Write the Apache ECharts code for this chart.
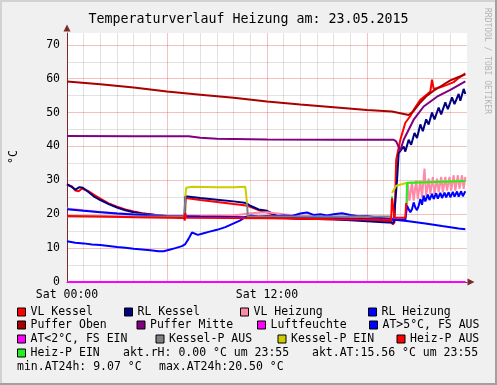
<!DOCTYPE html>
<html><head><meta charset="utf-8">
<script src="https://cdn.jsdelivr.net/npm/echarts@6/dist/echarts.min.js"></script>
<style>html,body{margin:0;padding:0;background:#f0f0f0}#c{width:497px;height:385px}</style>
</head><body><div id="c"></div>
<script>
// ---------- data (hours of day, °C) ----------
const titleText = 'Temperaturverlauf Heizung am: 23.05.2015';
const xTickHours = [0, 12];
const xTickLabels = ['Sat 00:00', 'Sat 12:00'];
const yLabelStep = 10;

const seriesNames = ['VL Kessel','RL Kessel','VL Heizung','RL Heizung','Puffer Oben','Puffer Mitte',
  'Luftfeuchte','AT>5°C, FS AUS','AT<2°C, FS EIN','Kessel-P AUS','Kessel-P EIN','Heiz-P AUS','Heiz-P EIN'];
const seriesColors = ['#ff0000','#000080','#ff8aa8','#0000ff','#aa0000','#800080',
  '#ff00ff','#0000ff','#ff00ff','#808080','#cccc00','#ff0000','#22ee22'];

const vlKessel = [[0,28.7],[0.3,28.2],[0.5,27.0],[0.7,26.8],[0.9,27.6],[1.3,26.8],[1.6,25.8],[2,24.6],[2.5,23.2],[3,22.2],[3.5,21.4],[4,20.8],[4.5,20.3],[5,20.0],[5.5,19.7],[6,19.4],[6.5,19.2],[7.0,19.0],[7.07,18.2],[7.12,24.8],[8,24.2],[9,23.6],[10,23.0],[10.75,22.6],[11.5,21.2],[12,20.6],[12.5,19.6],[13,19.0],[14,18.7],[16,18.5],[18,18.2],[19.45,17.9],[19.55,17.0],[19.65,17.6],[19.75,36],[20.0,42],[20.3,47],[20.6,49],[20.8,50.8],[21.2,53.8],[21.5,55],[21.8,56.2],[21.9,59.7],[22.0,57],[22.4,57.5],[22.8,58.2],[23.2,59],[23.5,60.2],[23.9,61.6]];
const rlKessel = [[0,28.9],[0.3,28.0],[0.5,27.3],[0.75,28.0],[0.95,27.8],[1.3,26.5],[1.6,25.3],[2,24.2],[2.5,23.0],[3,22.0],[3.5,21.2],[4,20.6],[4.5,20.2],[5,19.9],[5.5,19.6],[6,19.4],[6.5,19.2],[7.05,19.0],[7.1,25.3],[8,24.8],[9,24.3],[10,23.8],[10.75,23.3],[11,22.5],[11.5,21.4],[12,21.0],[12.5,19.8],[13,18.9],[14,18.7],[15,18.6],[16,18.5],[17,18.2],[18,17.9],[19,17.6],[19.6,17.5],[19.7,17.0],[19.8,30],[19.9,38],[20.0,37.5],[20.2,40],[20.3,38.5],[20.5,42],[20.65,40.5],[20.85,44],[21.0,42.5],[21.2,46.5],[21.35,44.5],[21.55,48],[21.7,46.5],[21.9,50],[22.05,48],[22.3,51.5],[22.45,49.5],[22.7,53],[22.85,51],[23.1,54.5],[23.25,52.5],[23.5,55.5],[23.6,53.5],[23.8,57],[23.9,55.5]];
const vlHeizung = [[0,21.7],[1,21.2],[2,20.7],[3,20.3],[4,20.0],[5,19.8],[6,19.6],[8,19.5],[10,19.6],[11,20.3],[12,20.6],[13,20.0],[14,19.5],[16,19.3],[18,19.0],[19.5,18.8],[19.7,18.5],[20.3,18.6],[20.4,22.5],[20.45,29],[20.55,24],[20.7,29.5],[20.8,24],[20.95,30],[21.05,24.5],[21.2,30],[21.3,25],[21.45,33.5],[21.55,25.5],[21.7,30.5],[21.8,26],[21.95,31],[22.05,26],[22.2,30.5],[22.3,26.5],[22.45,31],[22.55,26.5],[22.7,31],[22.8,27],[22.95,31],[23.05,27],[23.2,31.5],[23.3,27],[23.45,31.5],[23.55,27.5],[23.7,31.5],[23.8,27.5],[23.9,31]];
const rlHeizung = [[0,21.5],[1,21],[2,20.6],[3,20.2],[4,19.9],[5,19.7],[6,19.5],[8,19.3],[10,19.2],[12,19.0],[14,18.9],[16,18.8],[18,18.6],[19.5,18.4],[20.3,18.3],[20.4,22.5],[20.5,21.5],[20.6,20.6],[20.7,21.5],[20.8,23.5],[20.9,22],[21.0,21.2],[21.1,22.5],[21.2,24.5],[21.3,22.8],[21.4,25.5],[21.5,23.8],[21.65,25.8],[21.75,24.2],[21.9,26],[22.0,24.5],[22.15,26.2],[22.25,24.6],[22.4,26.3],[22.5,24.8],[22.65,26.4],[22.75,25],[22.9,26.5],[23.0,25],[23.15,26.6],[23.25,25.2],[23.4,26.7],[23.5,25.2],[23.65,26.8],[23.75,25.3],[23.9,26.8]];
const pufferOben = [[0,59.2],[2,58.4],[4,57.4],[6,56.2],[8,55.3],[10,54.4],[12,53.3],[14,52.4],[16,51.6],[18,50.8],[19.5,50.3],[20.5,49.3],[20.8,50.5],[21.2,53],[21.6,55],[22,56.5],[22.5,58],[23,59.5],[23.5,60.5],[23.9,61.3]];
const pufferMitte = [[0,43.1],[4,43.0],[7.3,43.0],[8,42.6],[9,42.3],[12,42.1],[16,42.0],[19.6,42.0],[19.75,41.5],[20.0,38.8],[20.2,42],[20.8,47.9],[21.4,51.8],[22.2,54.7],[23.0,56.7],[23.9,59.2]];
const luftfeuchte = [[0,0],[23.92,0]];
const atWarm = [[0,12.0],[0.5,11.6],[1,11.4],[1.5,11.1],[2,10.9],[2.5,10.6],[3,10.3],[3.5,10.1],[4,9.8],[4.5,9.6],[5,9.4],[5.5,9.1],[5.8,9.07],[6.2,9.6],[6.5,10],[6.9,10.6],[7.1,11.2],[7.3,12.8],[7.5,14.6],[7.85,13.9],[8.2,14.4],[8.5,14.8],[9,15.4],[9.5,16.2],[10,17.3],[10.4,18.2],[10.7,19.2],[11,19.6],[11.5,19.3],[12,19.5],[12.5,19.4],[13,19.6],[13.5,19.5],[14,20.2],[14.4,20.5],[14.8,19.8],[15.2,20.0],[15.6,19.6],[16,20.0],[16.5,20.3],[17,19.8],[17.5,19.4],[18,19.5],[18.5,19.1],[19,18.8],[19.5,18.5],[19.8,18.3],[20.5,17.9],[21.5,17.3],[22.5,16.5],[23.5,15.8],[23.9,15.56]];
const atCold = [];
const kesselPAus = [[0,19.3],[7.05,19.3],[7.1,25.2],[7.5,null],[10.8,23.3],[10.85,19.3],[19.5,19.3]];
const kesselPEin = [[7.1,25.2],[7.15,27.8],[7.5,28.1],[9,28.0],[10,28.0],[10.7,28.1],[10.8,23.3],[11,null],[19.5,26.3],[19.75,28.4],[20.35,29.2],[23.9,29.8]];
const heizPAus = [[0,19.5],[2,19.3],[4,19.1],[6,19.0],[7,18.9],[7.05,18.4],[7.1,20.3],[7.15,19.0],[12,18.8],[16,18.5],[19.45,18.4],[19.5,25],[19.6,25],[19.65,19],[20.3,19],[20.35,23.3]];
const heizPEin = [[19.45,25],[19.55,25],[19.6,null],[20.37,23.3],[20.4,29.3],[21,29.4],[22,29.5],[23,29.7],[23.9,29.8]];

const seriesData = [vlKessel, rlKessel, vlHeizung, rlHeizung, pufferOben, pufferMitte,
  luftfeuchte, atWarm, atCold, kesselPAus, kesselPEin, heizPAus, heizPEin];

const statLines = [
  {t:'akt.rH: 0.00 °C um 23:55', x:123, y:353},
  {t:'akt.AT:15.56 °C um 23:55', x:312, y:353},
  {t:'min.AT24h: 9.07 °C', x:17, y:367},
  {t:'max.AT24h:20.50 °C', x:159, y:367}
];
// ---------- layout ----------
const MONO = 'DejaVu Sans Mono';
const FS = 11.5;
const legendPos = [[17,312],[124,312],[240,312],[368,312],
                   [17,325],[136.5,325],[257,325],[369,325],
                   [17,339],[155.5,339],[277.5,339],[396.5,339],
                   [17,353]];
const MAJ = 'rgba(222,48,48,0.3)', MIN = 'rgba(143,143,143,0.26)';

const chart = echarts.init(document.getElementById('c'), null, {renderer:'canvas'});
const opt = {
  backgroundColor:'#f0f0f0',
  animation:false,
  title:{text:titleText, left:'center', top:8, textStyle:{fontFamily:MONO, fontSize:13.3, fontWeight:'normal', color:'#000'}},
  grid:{left:67, right:30, top:33, bottom:103, show:true, backgroundColor:'#ffffff', borderWidth:0, containLabel:false},
  xAxis:{type:'value', min:0, max:24, interval:1,
    axisLine:{show:true, onZero:true, symbol:['none','triangle'], symbolSize:[7,7], symbolOffset:[0,4], lineStyle:{color:'#7a2a2a', width:1}},
    axisTick:{show:false},
    axisLabel:{margin:7, fontFamily:MONO, fontSize:FS, color:'#000', showMaxLabel:true,
      formatter:v=>{const i=xTickHours.indexOf(v); return i>=0?xTickLabels[i]:'';}},
    splitLine:{show:true, showMaxLine:false, lineStyle:{width:1, color:[MAJ,MIN,MIN,MIN,MIN,MIN]}}},
  yAxis:{type:'value', min:0, max:73.5, interval:5,
    axisLine:{show:true, symbol:['none','triangle'], symbolSize:[7,7], symbolOffset:[0,5], lineStyle:{color:'#7a2a2a', width:1}},
    axisTick:{show:false},
    axisLabel:{margin:7, fontFamily:MONO, fontSize:FS, color:'#000', showMaxLabel:false,
      formatter:v=>(v%yLabelStep===0?String(v):'')},
    splitLine:{show:true, showMaxLine:false, lineStyle:{width:1, color:[MAJ,MIN]}}},
  legend: seriesNames.map((n,i)=>({data:[n], left:legendPos[i][0], top:legendPos[i][1]-6, padding:0,
    icon:'rect', itemWidth:8, itemHeight:8, itemGap:0, selectedMode:false,
    itemStyle:{borderColor:'#000', borderWidth:1},
    textStyle:{fontFamily:MONO, fontSize:FS, color:'#000', padding:[0,0,0,0]}})),
  series: seriesNames.map((n,i)=>({name:n, type:'line', data:seriesData[i], showSymbol:false, symbol:'none',
    connectNulls:false, color:seriesColors[i], lineStyle:{width:2, color:seriesColors[i]}, z:2+i*0.01})),
  graphic:[
    {type:'rect', shape:{x:0,y:0,width:497,height:2}, style:{fill:'#d2d2d2'}, silent:true},
    {type:'rect', shape:{x:0,y:0,width:2,height:385}, style:{fill:'#d2d2d2'}, silent:true},
    {type:'rect', shape:{x:495,y:0,width:2,height:385}, style:{fill:'#a0a0a0'}, silent:true},
    {type:'rect', shape:{x:0,y:383,width:497,height:2}, style:{fill:'#a0a0a0'}, silent:true},
    {type:'text', x:14, y:157, rotation:Math.PI/2, style:{text:'°C', fontFamily:MONO, fontSize:FS, fill:'#000', align:'center', verticalAlign:'middle'}},
    {type:'text', x:487, y:8, rotation:-Math.PI/2, style:{text:'RRDTOOL / TOBI OETIKER', fontFamily:MONO, fontSize:8, fill:'#b4b4b4', align:'left', verticalAlign:'middle'}},
    ...statLines.map(s=>({type:'text', x:s.x, y:s.y, style:{text:s.t, fontFamily:MONO, fontSize:FS, fill:'#000', align:'left', verticalAlign:'middle'}}))
  ]
};
chart.setOption(opt);
</script></body></html>
